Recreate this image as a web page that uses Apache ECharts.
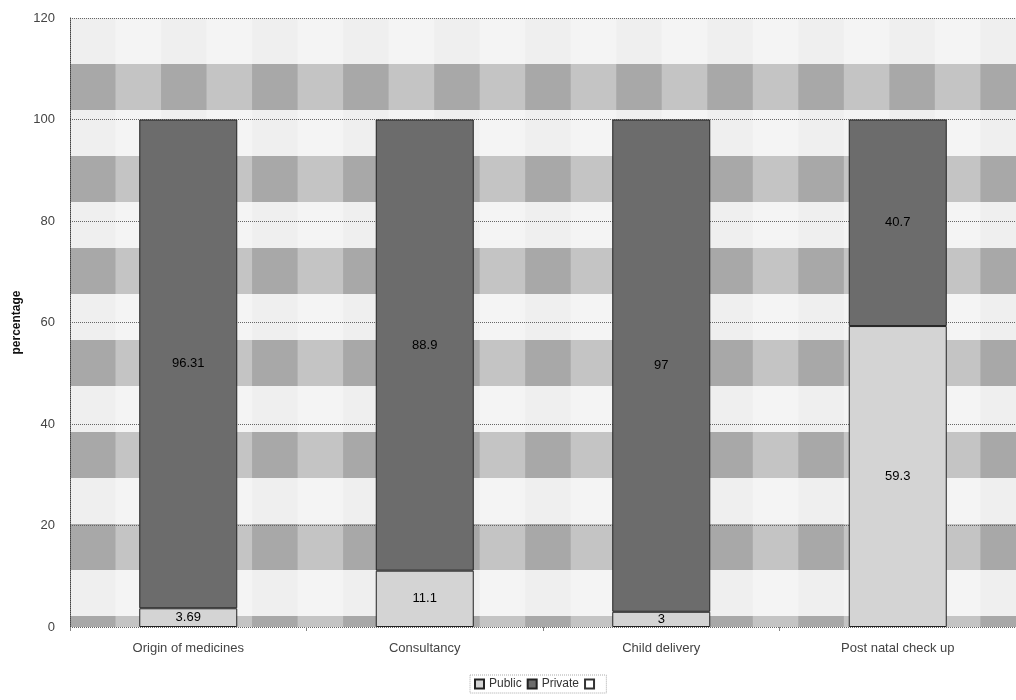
<!DOCTYPE html>
<html>
<head>
<meta charset="utf-8">
<script src="https://cdn.jsdelivr.net/npm/echarts@6/dist/echarts.min.js"></script>
<style>
  html, body { margin: 0; padding: 0; background: #fff; }
  #chart { width: 1016px; height: 700px; }
</style>
</head>
<body>
<div id="chart"></div>
<script>
// categories and values
var categories = ['Origin of medicines', 'Consultancy', 'Child delivery', 'Post natal check up']
var publicValues = [3.69, 11.1, 3, 59.3]
var privateValues = [96.31, 88.9, 97, 40.7]
var yTicks = { min: 0, max: 120, interval: 20 }

var chart = echarts.init(document.getElementById('chart'))

var labelStyle = {
  show: true,
  position: 'inside',
  color: '#000',
  fontSize: 13,
  fontFamily: 'Liberation Sans'
}

chart.setOption({
  animation: false,
  textStyle: { fontFamily: 'Liberation Sans' },
  grid: {
    left: 70,
    top: 18,
    width: 956,
    height: 609,
    show: true,
    borderWidth: 0,
    backgroundColor: '#c4c4c4'
  },
  legend: {
    bottom: 7,
    left: 470,
    icon: 'rect',
    itemWidth: 9,
    itemHeight: 9,
    itemGap: 5,
    padding: [3, 4],
    borderColor: '#aaa',
    borderWidth: 1,
    borderType: 'dotted',
    textStyle: { fontSize: 12, color: '#333' },
    data: ['Public', 'Private', '\u00a0']
  },
  xAxis: [
    {
      type: 'category',
      data: categories,
      z: 1,
      axisLine: { show: false },
      axisTick: { show: true, length: 4, lineStyle: { color: '#888' } },
      axisLabel: { color: '#444', fontSize: 13, margin: 15 }
    },
    {
      // background gingham: vertical stripes
      type: 'value',
      min: 0,
      max: 956,
      interval: 46,
      z: 0.2,
      axisLine: { show: false },
      axisTick: { show: false },
      axisLabel: { show: false },
      splitLine: { show: false },
      splitArea: {
        show: true,
        areaStyle: { color: ['rgba(0,0,0,0.14)', 'rgba(0,0,0,0)'] }
      }
    }
  ],
  yAxis: [
    {
      type: 'value',
      min: yTicks.min,
      max: yTicks.max,
      interval: yTicks.interval,
      z: 1,
      name: 'percentage',
      nameLocation: 'middle',
      nameGap: 46,
      nameTextStyle: { fontSize: 12, fontWeight: 'bold', color: '#111' },
      axisLine: { show: true, lineStyle: { color: '#444', type: 'dotted' } },
      axisTick: { show: false },
      axisLabel: { color: '#444', fontSize: 13, margin: 15 },
      splitLine: { show: true, lineStyle: { color: '#666', type: 'dotted' } }
    },
    {
      // background gingham: horizontal bands
      type: 'value',
      min: 0,
      max: 609,
      interval: 46,
      inverse: true,
      z: 0.5,
      axisLine: { show: false },
      axisTick: { show: false },
      axisLabel: { show: false },
      splitLine: { show: false },
      splitArea: {
        show: true,
        areaStyle: { color: ['rgba(255,255,255,0.82)', 'rgba(255,255,255,0)'] }
      }
    }
  ],
  series: [
    {
      name: 'Public',
      type: 'bar',
      stack: 'total',
      barWidth: 98,
      z: 3,
      data: publicValues,
      itemStyle: { color: '#d4d4d4', borderColor: '#222', borderWidth: 1 },
      label: labelStyle
    },
    {
      name: 'Private',
      type: 'bar',
      stack: 'total',
      z: 3,
      data: privateValues,
      itemStyle: { color: '#6c6c6c', borderColor: '#222', borderWidth: 1 },
      label: labelStyle
    },
    {
      name: '\u00a0',
      type: 'bar',
      stack: 'total',
      z: 3,
      data: [],
      itemStyle: { color: '#fff', borderColor: '#333', borderWidth: 1 }
    }
  ]
})
</script>
</body>
</html>
